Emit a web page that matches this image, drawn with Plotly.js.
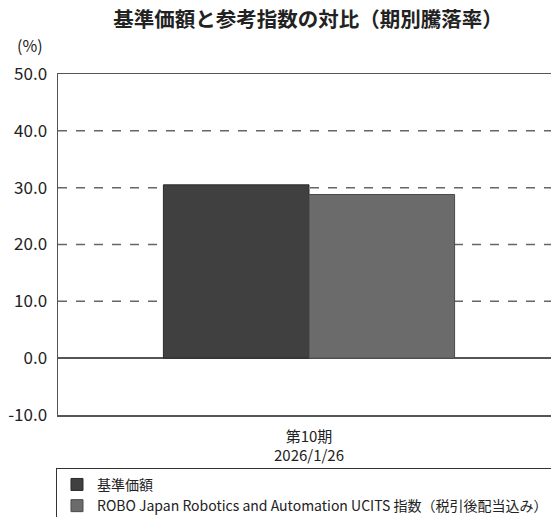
<!DOCTYPE html>
<html><head><meta charset="utf-8">
<script src="https://cdn.plot.ly/plotly-3.0.1.min.js"></script>
<style>html,body{margin:0;padding:0;overflow:hidden;background:#fff;}</style>
</head><body><div id="chart"></div>
<script>
const categories = ["第10期<br>2026/1/26"];
const seriesNames = ["基準価額", "ROBO Japan Robotics and Automation UCITS 指数（税引後配当込み）"];
const fundValues = [30.5];
const indexValues = [28.8];
const yTickVals = [-10, 0, 10, 20, 30, 40, 50];
const yTickText = ["-10.0", "0.0", "10.0", "20.0", "30.0", "40.0", "50.0"];
const gridVals = [10, 20, 30, 40];

const font = "Noto Sans CJK JP, Noto Sans, sans-serif";
const traces = [
  {type:"bar", x:categories, y:fundValues, name:seriesNames[0],
   marker:{color:"#404040", line:{color:"#2a2a2a", width:1}}},
  {type:"bar", x:categories, y:indexValues, name:seriesNames[1],
   marker:{color:"#6b6b6b", line:{color:"#4a4a4a", width:1}}}
];
const shapes = gridVals.map(v => ({type:"line", xref:"paper", x0:0, x1:1, yref:"y", y0:v, y1:v,
  line:{color:"#666", width:1.5, dash:"dash"}, layer:"below"}));
const layout = {
  width:560, height:540,
  margin:{l:58, r:0, t:74, b:125},
  paper_bgcolor:"#fff", plot_bgcolor:"#fff",
  font:{family:font, color:"#222", size:16},
  title:{text:"<b>基準価額と参考指数の対比（期別騰落率）</b>", x:0.55, xanchor:"center", y:1 - 20/540, yref:"container", yanchor:"middle",
    font:{family:font, size:20.5, color:"#222"}},
  barmode:"group", bargap:0.42, bargroupgap:0,
  showlegend:true,
  legend:{x:-0.004, xanchor:"left", y:-0.155, yanchor:"top", bordercolor:"#333", borderwidth:1,
    font:{family:font, size:14, color:"#222"}, traceorder:"normal", itemwidth:30,
    bgcolor:"rgba(0,0,0,0)", tracegroupgap:0},
  xaxis:{showline:true, linecolor:"#555", linewidth:1.5, mirror:true, ticks:"", showgrid:false,
    tickfont:{family:font, size:15, color:"#222"}, ticklabelstandoff:7, fixedrange:true},
  yaxis:{range:[-10,50], tickvals:yTickVals, ticktext:yTickText, showgrid:false,
    showline:true, linecolor:"#555", linewidth:1.5, mirror:true, ticks:"",
    zeroline:true, zerolinecolor:"#555", zerolinewidth:1.5,
    tickfont:{family:font, size:17, color:"#222"}, ticklabelstandoff:6},
  shapes:shapes,
  annotations:[{text:"(%)", xref:"paper", yref:"paper", x:-0.055, y:1.045, xanchor:"center", yanchor:"bottom",
    showarrow:false, font:{family:font, size:16, color:"#222"}}]
};
Plotly.newPlot("chart", traces, layout, {displayModeBar:false, staticPlot:true});
</script></body></html>
